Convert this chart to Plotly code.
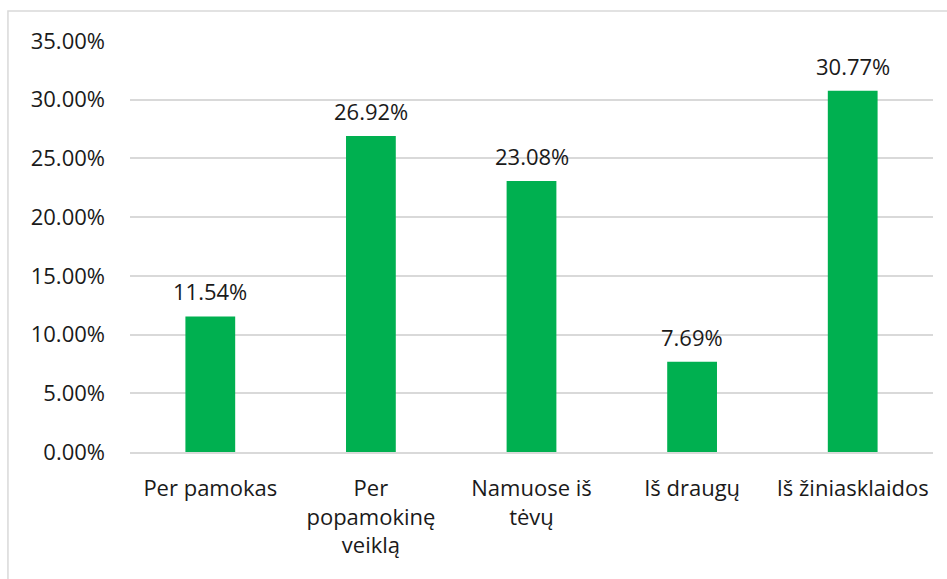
import plotly.graph_objects as go

categories = ["Per pamokas", "Per<br>popamokinę<br>veiklą", "Namuose iš<br>tėvų", "Iš draugų", "Iš žiniasklaidos"]
values = [11.54, 26.92, 23.08, 7.69, 30.77]
y_ticks = [0, 5, 10, 15, 20, 25, 30, 35]
y_tick_labels = [f"{v:.2f}%" for v in y_ticks]
value_labels = [f"{v:.2f}%" for v in values]

FONT = "Open Sans, Liberation Sans, sans-serif"
TXT = "#1a1a1a"

fig = go.Figure()
fig.add_trace(go.Bar(
    x=categories, y=values,
    marker=dict(color="#00B050", line=dict(width=0)),
    hoverinfo="skip",
))

for c, v, lab in zip(categories, values, value_labels):
    fig.add_annotation(x=c, y=v, text=lab, showarrow=False, yanchor="bottom",
                       yshift=8, font=dict(family=FONT, size=22, color=TXT))

fig.add_shape(type="rect", xref="paper", yref="paper",
              x0=-0.152, x1=1.2, y0=-1.0, y1=1.073,
              line=dict(color="#d9d9d9", width=1.5), fillcolor="rgba(0,0,0,0)", layer="below")

fig.update_layout(
    width=947, height=579,
    margin=dict(l=130, r=14, t=41, b=127),
    paper_bgcolor="white", plot_bgcolor="white",
    bargap=0.69,
    showlegend=False,
    font=dict(family=FONT, size=22, color=TXT),
    xaxis=dict(showgrid=False, showline=True, linecolor="#d9d9d9", linewidth=1.5,
               ticks="", tickfont=dict(family=FONT, size=22, color=TXT),
               ticklabelstandoff=16, fixedrange=True, automargin=False),
    yaxis=dict(range=[0, 35], tickvals=y_ticks, ticktext=y_tick_labels,
               showgrid=True, gridcolor="#d9d9d9", gridwidth=1.5,
               zeroline=False, showline=False, ticks="",
               tickfont=dict(family=FONT, size=22, color=TXT),
               ticklabelstandoff=24, fixedrange=True, automargin=False),
)

fig.write_html("out.html", config={"displayModeBar": False},
               post_script="document.body.style.margin='0';")
